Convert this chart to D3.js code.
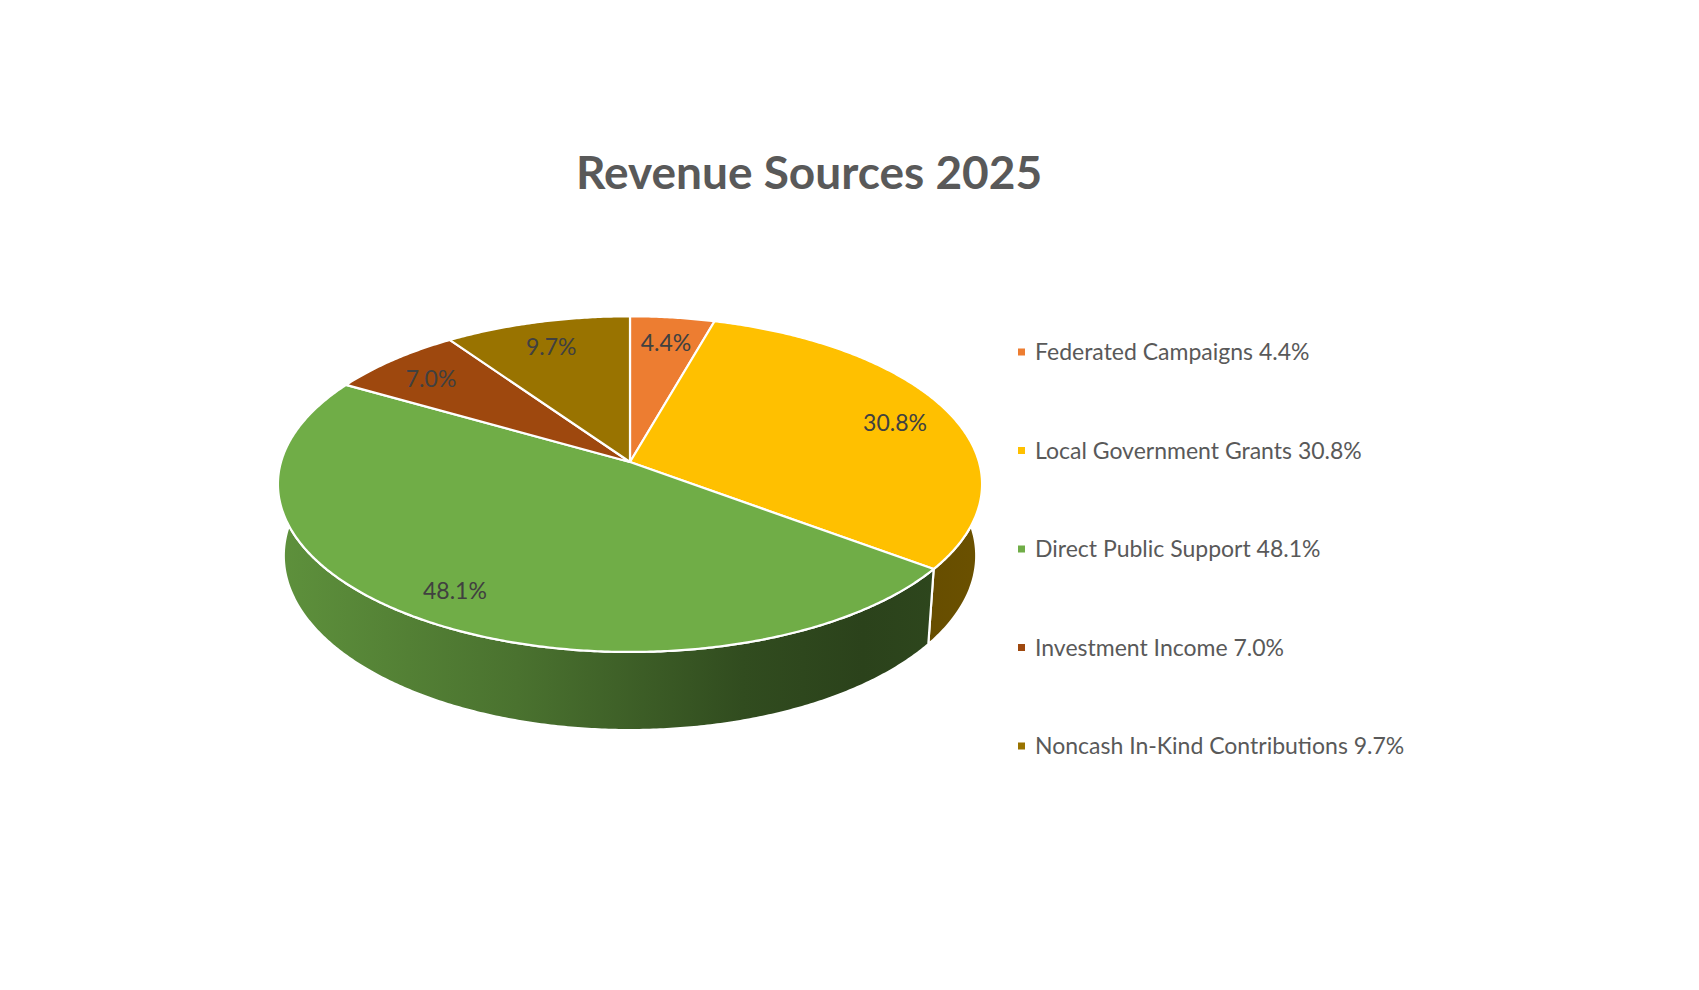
<!DOCTYPE html>
<html>
<head>
<meta charset="utf-8">
<title>Revenue Sources 2025</title>
<script src="https://cdn.jsdelivr.net/npm/d3@7"></script>
<style>
  body { margin: 0; background: #fff; }
  svg { display: block; }
</style>
</head>
<body>
<div id="chart"></div>
<script>
////////////////////////////////////////////////////////////////////////
// Data

let categories = ["Federated Campaigns", "Local Government Grants", "Direct Public Support",
                  "Investment Income", "Noncash In-Kind Contributions"];
let values = [4.4, 30.8, 48.1, 7.0, 9.7];  // percent of revenue
let colors = ["#ED7D31", "#FFC000", "#70AD47", "#9E480E", "#997300"];

////////////////////////////////////////////////////////////////////////
// Layout

let width = 1699, height = 990;
let cx = 630, cy = 462, radius = 349;   // apex of the pie on screen
let tilt = 28.2 * Math.PI / 180;        // elevation of the pie plane
let camDist = 6.686;                    // perspective distance (in radii)
let thickness = 0.235;                  // pie depth (in radii)
let labelRadius = 0.83;

let svg = d3.select("#chart")
  .append("svg")
  .attr("width", width).attr("height", height);

svg.append("rect").attr("width", width).attr("height", height).attr("fill", "#fff");

// project a point of the pie (angle clockwise from 12 o'clock, r in radii, h height) to the screen
function project(angle, r, h) {
  let u = r * Math.sin(angle), v = r * Math.cos(angle);
  let Y = -(v * Math.sin(tilt) + h * Math.cos(tilt));
  let Z = v * Math.cos(tilt) - h * Math.sin(tilt);
  let p = camDist / (camDist + Z);
  return [cx + radius * u * p, cy + radius * Y * p];
}

function arcPoints(a0, a1, h) {
  let n = Math.max(2, Math.ceil(Math.abs(a1 - a0) / (Math.PI / 360)));
  return d3.range(n + 1).map(i => project(a0 + (a1 - a0) * i / n, 1, h));
}

let pie = d3.pie().sort(null).value(d => d.value);
let slices = pie(categories.map((c, i) => ({ name: c, value: values[i], color: colors[i] })));
let line = d3.line();

// side shading: light at left, dark at right
let shadeStops = [[0, 0.84], [0.34, 0.66], [0.66, 0.44], [0.83, 0.38], [1, 0.42]];
let defs = svg.append("defs");
slices.forEach((s, i) => {
  let g = defs.append("linearGradient")
    .attr("id", "side" + i)
    .attr("gradientUnits", "userSpaceOnUse")
    .attr("x1", cx - radius * 1.01).attr("x2", cx + radius * 1.01)
    .attr("y1", 0).attr("y2", 0);
  let base = d3.rgb(s.data.color);
  shadeStops.forEach(([o, f]) => {
    g.append("stop")
      .attr("offset", o)
      .attr("stop-color", d3.rgb(base.r * f, base.g * f, base.b * f).formatHex());
  });
});

////////////////////////////////////////////////////////////////////////
// Pie sides then top faces

svg.append("g").selectAll("path")
  .data(slices)
  .enter().append("path")
  .attr("d", d => line(arcPoints(d.startAngle, d.endAngle, 0)
      .concat(arcPoints(d.endAngle, d.startAngle, -thickness))) + "Z")
  .attr("fill", (d, i) => `url(#side${i})`)
  .attr("stroke", "#fff")
  .attr("stroke-width", 2.2)
  .attr("stroke-linejoin", "round");

svg.append("g").selectAll("path")
  .data(slices)
  .enter().append("path")
  .attr("d", d => line([[cx, cy]].concat(arcPoints(d.startAngle, d.endAngle, 0))) + "Z")
  .attr("fill", d => d.data.color)
  .attr("stroke", "#fff")
  .attr("stroke-width", 2.2)
  .attr("stroke-linejoin", "round");

// data labels
svg.append("g").selectAll("text")
  .data(slices)
  .enter().append("text")
  .attr("x", d => project((d.startAngle + d.endAngle) / 2, labelRadius, 0)[0])
  .attr("y", d => project((d.startAngle + d.endAngle) / 2, labelRadius, 0)[1])
  .attr("dy", "0.48em")
  .attr("text-anchor", "middle")
  .style("font-family", "Lato, 'Open Sans', sans-serif")
  .style("font-size", "23px")
  .style("fill", "#404040")
  .text(d => d.data.value.toFixed(1) + "%");

////////////////////////////////////////////////////////////////////////
// Title

svg.append("text")
  .attr("x", 809).attr("y", 189)
  .attr("text-anchor", "middle")
  .style("font-family", "Lato, 'Open Sans', sans-serif")
  .style("font-weight", "bold")
  .style("font-size", "46px")
  .style("fill", "#595959")
  .text("Revenue Sources 2025");

////////////////////////////////////////////////////////////////////////
// Legend

let legendY = d3.scalePoint().domain(categories).range([352, 746]);

let legend = svg.append("g").selectAll("g")
  .data(slices)
  .enter().append("g")
  .attr("transform", d => `translate(1018,${legendY(d.data.name)})`);

legend.append("rect")
  .attr("x", 0).attr("y", -3.5)
  .attr("width", 7).attr("height", 7)
  .attr("fill", d => d.data.color);

legend.append("text")
  .attr("x", 17).attr("dy", "0.36em")
  .style("font-family", "Lato, 'Open Sans', sans-serif")
  .style("font-size", "23px")
  .style("fill", "#595959")
  .text(d => `${d.data.name} ${d.data.value.toFixed(1)}%`);
</script>
</body>
</html>
